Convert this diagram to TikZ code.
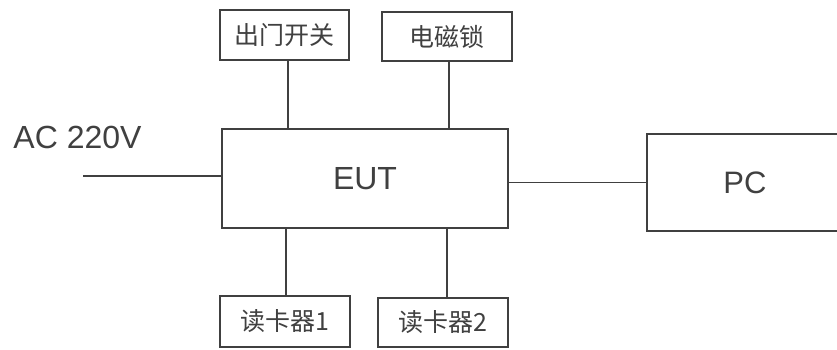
\documentclass[tikz,border=0pt]{standalone}
\usepackage{fontspec}
\setmainfont{Liberation Sans}
\newfontfamily\cjk{Noto Sans CJK SC}
\definecolor{ink}{HTML}{404040}
\begin{document}
\begin{tikzpicture}[x=1pt,y=-1pt,
  box/.style={draw=ink,line width=1.4pt,rectangle,inner sep=0pt,text=ink},
  cnbox/.style={box,font=\cjk\fontsize{25}{30}\selectfont},
  enbox/.style={box,font=\fontsize{32}{38}\selectfont},
  wire/.style={draw=ink,line width=1.4pt}]
\useasboundingbox[fill=white] (0,0) rectangle (837,349);
\clip (0,0) rectangle (837,349);
\node[cnbox,minimum width=129pt,minimum height=50pt] (t1) at (284.5,35) {出门开关};
\node[cnbox,minimum width=130pt,minimum height=49pt] (t2) at (447,36.5) {电磁锁};
\node[enbox,minimum width=286pt,minimum height=99pt] (eut) at (365,178.5) {EUT};
\node[cnbox,minimum width=130pt,minimum height=51pt] (b1) at (285,321.5) {读卡器1};
\node[cnbox,minimum width=130pt,minimum height=49pt] (b2) at (443,322.5) {读卡器2};
\node[enbox,minimum width=196pt,minimum height=97pt,font=\fontsize{31}{36}\selectfont] (pc) at (745,182.5) {PC};
\node[text=ink,font=\fontsize{32}{38}\selectfont,inner sep=0pt] (ac) at (77.5,137.5) {AC 220V};
\coordinate (acend) at (83,176);
\draw[wire] ([xshift=3.5pt]t1.south) -- ([xshift=3.5pt]t1.south |- eut.north);
\draw[wire] ([xshift=2pt]t2.south) -- ([xshift=2pt]t2.south |- eut.north);
\draw[wire] ([xshift=1pt]b1.north) -- ([xshift=1pt]b1.north |- eut.south);
\draw[wire] ([xshift=4pt]b2.north) -- ([xshift=4pt]b2.north |- eut.south);
\draw[wire] (eut.east |- pc.west) -- (pc.west);
\draw[wire] (acend) -- (acend -| eut.west);
\end{tikzpicture}
\end{document}
